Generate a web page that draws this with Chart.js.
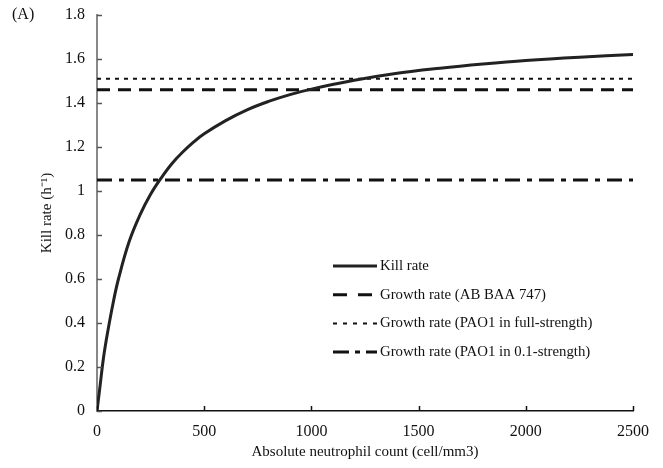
<!DOCTYPE html>
<html>
<head>
<meta charset="utf-8">
<script src="https://cdn.jsdelivr.net/npm/chart.js@4.4.1/dist/chart.umd.min.js"></script>
<style>
  html, body { margin: 0; padding: 0; background: #fff; }
  #wrap { position: relative; width: 663px; height: 468px; }
  #panel { position: absolute; left: 12px; top: 5px; font: 16px 'Liberation Serif', serif; color: #111; }
</style>
</head>
<body>
<div id="wrap">
  <canvas id="myChart" width="663" height="468"></canvas>
  <div id="panel">(A)</div>
</div>
<script>
// data
const neutrophils = [0, 15, 30, 50, 75, 100, 150, 200, 250, 300, 350, 400, 450, 500, 600, 700, 800, 900, 1000, 1200, 1400, 1600, 1800, 2000, 2250, 2500];
const killRates   = [0, 0.12, 0.24, 0.36, 0.49, 0.60, 0.77, 0.89, 0.985, 1.06, 1.125, 1.177, 1.222, 1.26, 1.32, 1.369, 1.407, 1.438, 1.463, 1.503, 1.535, 1.558, 1.577, 1.593, 1.608, 1.62];
const xRange = [0, 2500];
const growthAB = 1.46;
const growthPAOfull = 1.51;
const growthPAO01 = 1.05;
const seriesNames = ['Kill rate', 'Growth rate (AB BAA 747)', 'Growth rate (PAO1 in full-strength)', 'Growth rate (PAO1 in 0.1-strength)'];
const xTicks = [0, 500, 1000, 1500, 2000, 2500];
const yTicks = [0, 0.2, 0.4, 0.6, 0.8, 1, 1.2, 1.4, 1.6, 1.8];

Chart.defaults.font.family = "'Liberation Serif', serif";
Chart.defaults.font.size = 16;
Chart.defaults.color = '#111';

const flat = (v) => xRange.map(x => ({x: x, y: v}));

// ticks drawn inside the plot, plus the legend inside the plot area
const innerBits = {
  id: 'innerBits',
  afterDraw(chart) {
    const c = chart.ctx, xs = chart.scales.x, ys = chart.scales.y;
    const a = chart.chartArea;
    c.save();
    c.lineWidth = 1.5;
    c.strokeStyle = '#555';
    yTicks.forEach(v => {
      const py = Math.round(ys.getPixelForValue(v)) + 0.5;
      c.beginPath(); c.moveTo(a.left, py); c.lineTo(a.left + 5, py); c.stroke();
    });
    c.strokeStyle = '#111';
    xTicks.forEach(v => {
      const px = Math.round(xs.getPixelForValue(v)) + 0.5;
      c.beginPath(); c.moveTo(px, a.bottom); c.lineTo(px, a.bottom - 5); c.stroke();
    });
    // legend
    const lx = 333, ly = 266, gap = 28.7;
    chart.data.datasets.forEach((ds, i) => {
      const y = ly + i * gap;
      c.strokeStyle = ds.borderColor;
      c.lineWidth = ds.borderWidth;
      c.setLineDash(ds.legendDash || []);
      c.beginPath(); c.moveTo(lx, y); c.lineTo(lx + 44, y); c.stroke();
      c.setLineDash([]);
      c.fillStyle = '#111';
      c.font = "14.8px 'Liberation Serif', serif";
      c.textBaseline = 'middle';
      c.fillText(ds.label, lx + 47, y);
    });
    c.restore();
  }
};

new Chart(document.getElementById('myChart'), {
  type: 'line',
  data: {
    datasets: [
      {
        label: seriesNames[0],
        data: neutrophils.map((n, i) => ({x: n, y: killRates[i]})),
        borderColor: '#222', borderWidth: 3, pointRadius: 0,
        tension: 0.4, fill: false
      },
      {
        label: seriesNames[1],
        data: flat(growthAB),
        borderColor: '#111', borderWidth: 3, pointRadius: 0,
        borderDash: [13, 8], legendDash: [14, 11], fill: false
      },
      {
        label: seriesNames[2],
        data: flat(growthPAOfull),
        borderColor: '#111', borderWidth: 2, pointRadius: 0,
        borderDash: [4, 5], legendDash: [4, 6], fill: false
      },
      {
        label: seriesNames[3],
        data: flat(growthPAO01),
        borderColor: '#111', borderWidth: 3, pointRadius: 0,
        borderDash: [15, 7, 5, 7], legendDash: [16, 6, 5, 6], fill: false
      }
    ]
  },
  options: {
    responsive: false,
    animation: false,
    layout: { padding: { left: 0, top: 15, right: 30, bottom: 0 } },
    plugins: {
      legend: { display: false },
      tooltip: { enabled: false }
    },
    scales: {
      x: {
        type: 'linear', min: 0, max: 2500,
        afterBuildTicks: (s) => { s.ticks = xTicks.map(v => ({value: v})); },
        afterFit: (s) => { s.height = 57; s.paddingLeft = 0; s.paddingRight = 0; },
        grid: { display: false, drawTicks: false },
        border: { display: true, color: '#111', width: 1.5 },
        ticks: { padding: 11, maxRotation: 0, color: '#111', callback: (v) => String(v) },
        title: { display: true, text: 'Absolute neutrophil count (cell/mm3)', font: { size: 15 }, padding: { top: 0, bottom: 7 }, color: '#111' }
      },
      y: {
        type: 'linear', min: 0, max: 1.8,
        afterBuildTicks: (s) => { s.ticks = yTicks.map(v => ({value: v})); },
        afterFit: (s) => { s.width = 97; s.paddingTop = 0; s.paddingBottom = 0; },
        grid: { display: false, drawTicks: false },
        border: { display: true, color: '#888', width: 2 },
        ticks: { padding: 12, color: '#111', callback: (v) => String(Math.round(v * 10) / 10) },
        title: { display: true, text: 'Kill rate (h\u207B\u00B9)', font: { size: 15 }, padding: { top: 38, bottom: 0 }, color: '#111' }
      }
    }
  },
  plugins: [innerBits]
});
</script>
</body>
</html>
